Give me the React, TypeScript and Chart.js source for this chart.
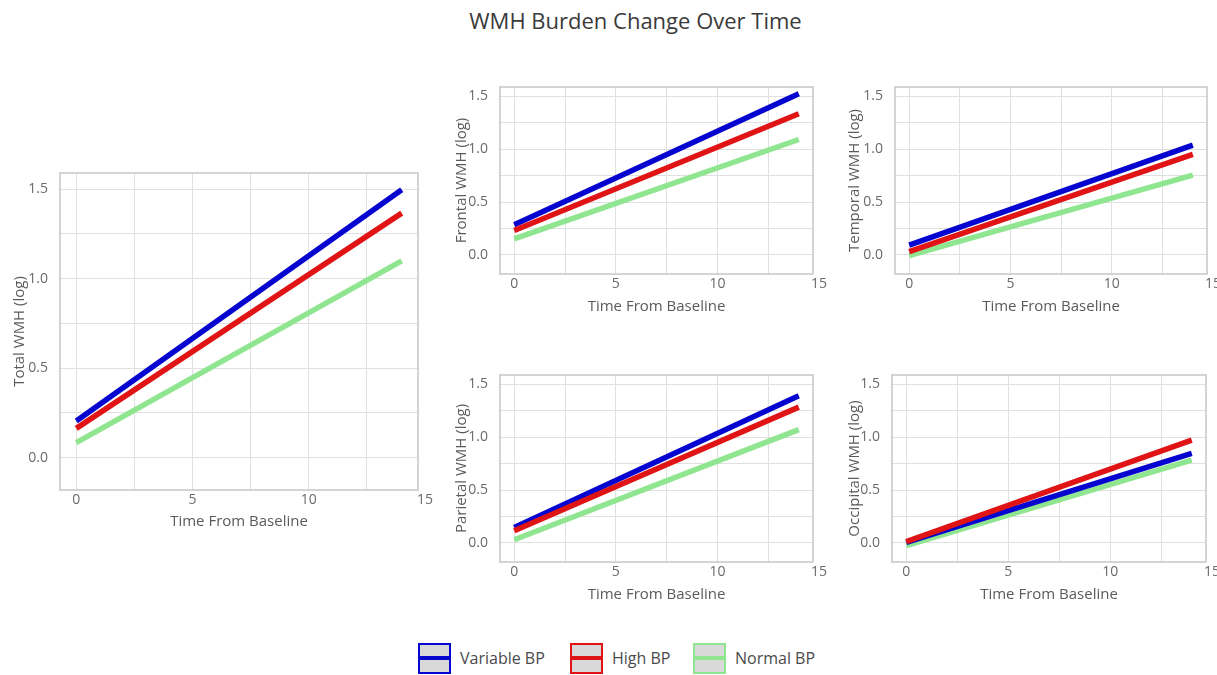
import React, { useEffect, useRef } from "react";
import { Chart, registerables } from "chart.js";

Chart.register(...registerables);

const FONT = "'Open Sans', 'DejaVu Sans', sans-serif";

const TITLE = "WMH Burden Change Over Time";
const X_TITLE = "Time From Baseline";

const seriesNames = ["Variable BP", "High BP", "Normal BP"];
const seriesColors = ["#0505cf", "#e01414", "#90e690"];

// time points (start and end of each fitted line)
const timePoints = [0, 14];

// [start, end] per series: Variable BP, High BP, Normal BP
const totalVariable = [0.205, 1.496];
const totalHigh = [0.164, 1.366];
const totalNormal = [0.084, 1.099];

const frontalVariable = [0.285, 1.525];
const frontalHigh = [0.232, 1.337];
const frontalNormal = [0.153, 1.093];

const temporalVariable = [0.094, 1.04];
const temporalHigh = [0.031, 0.953];
const temporalNormal = [-0.006, 0.756];

const parietalVariable = [0.147, 1.393];
const parietalHigh = [0.116, 1.286];
const parietalNormal = [0.031, 1.073];

const occipitalVariable = [0.006, 0.847];
const occipitalHigh = [0.013, 0.973];
const occipitalNormal = [-0.025, 0.784];

const xTicks = [0, 2.5, 5, 7.5, 10, 12.5, 15];
const xLabelTicks = [0, 5, 10, 15];
const yTicks = [0, 0.25, 0.5, 0.75, 1, 1.25, 1.5];
const yLabelTicks = [0, 0.5, 1, 1.5];

const X_MIN = -0.7;
const X_MAX = 14.7;
const Y_MIN = -0.18;
const Y_MAX = 1.59;

type PanelDef = {
  yTitle: string;
  series: number[][];
  left: number;
  top: number;
  width: number;
  height: number;
  yAxisWidth: number;
  xAxisHeight: number;
};

const panels: PanelDef[] = [
  { yTitle: "Total WMH (log)", series: [totalVariable, totalHigh, totalNormal], left: 11, top: 161, width: 423, height: 374, yAxisWidth: 49, xAxisHeight: 45 },
  { yTitle: "Frontal WMH (log)", series: [frontalVariable, frontalHigh, frontalNormal], left: 453, top: 75, width: 376, height: 245, yAxisWidth: 47, xAxisHeight: 46 },
  { yTitle: "Temporal WMH (log)", series: [temporalVariable, temporalHigh, temporalNormal], left: 846, top: 75, width: 377, height: 245, yAxisWidth: 49, xAxisHeight: 46 },
  { yTitle: "Parietal WMH (log)", series: [parietalVariable, parietalHigh, parietalNormal], left: 453, top: 363, width: 376, height: 245, yAxisWidth: 47, xAxisHeight: 46 },
  { yTitle: "Occipital WMH (log)", series: [occipitalVariable, occipitalHigh, occipitalNormal], left: 846, top: 363, width: 376, height: 245, yAxisWidth: 46, xAxisHeight: 46 },
];

const drawOrder = [1, 0, 2]; // High BP drawn on top, then Variable, then Normal

const frameBorder = {
  id: "frameBorder",
  afterDraw(chart: any) {
    const { ctx, chartArea } = chart;
    ctx.save();
    ctx.strokeStyle = "#c6c6c6";
    ctx.lineWidth = 1.5;
    ctx.strokeRect(chartArea.left, chartArea.top, chartArea.right - chartArea.left, chartArea.bottom - chartArea.top);
    ctx.restore();
  },
};

function Panel({ def }: { def: PanelDef }) {
  const ref = useRef<HTMLCanvasElement | null>(null);
  useEffect(() => {
    if (!ref.current) return;
    const datasets = def.series.map((vals, i) => ({
      label: seriesNames[i],
      data: timePoints.map((t, j) => ({ x: t, y: vals[j] })),
      borderColor: seriesColors[i],
      backgroundColor: seriesColors[i],
      borderWidth: 5.5,
      borderCapStyle: "butt" as const,
      pointRadius: 0,
      fill: false,
      order: drawOrder[i],
    }));
    const chart = new Chart(ref.current, {
      type: "line",
      data: { datasets },
      plugins: [frameBorder],
      options: {
        animation: false,
        responsive: false,
        maintainAspectRatio: false,
        layout: { padding: { top: 12, right: 16, bottom: 0, left: 0 } },
        plugins: { legend: { display: false }, tooltip: { enabled: false }, title: { display: false } },
        scales: {
          x: {
            type: "linear",
            min: X_MIN,
            max: X_MAX,
            afterBuildTicks: (scale: any) => {
              scale.ticks = xTicks.map((v) => ({ value: v }));
            },
            afterFit: (scale: any) => {
              scale.height = def.xAxisHeight;
              scale.paddingLeft = 0;
              scale.paddingRight = 0;
            },
            ticks: {
              autoSkip: false,
              maxRotation: 0,
              padding: 2,
              color: "#6a6a6a",
              font: { family: FONT, size: 14 },
              callback: (v: any) => (xLabelTicks.includes(Number(v)) ? String(v) : ""),
            },
            grid: {
              drawTicks: false,
              color: (c: any) => (c.tick && c.tick.value > X_MAX ? "rgba(0,0,0,0)" : "#e0e0e0"),
              lineWidth: 1,
            },
            border: { display: false },
            title: {
              display: true,
              text: X_TITLE,
              color: "#5a5a5a",
              font: { family: FONT, size: 15 },
              padding: { top: 0, bottom: 4 },
            },
          },
          y: {
            type: "linear",
            min: Y_MIN,
            max: Y_MAX,
            afterBuildTicks: (scale: any) => {
              scale.ticks = yTicks.map((v) => ({ value: v }));
            },
            afterFit: (scale: any) => {
              scale.width = def.yAxisWidth;
              scale.paddingTop = 0;
              scale.paddingBottom = 0;
            },
            ticks: {
              autoSkip: false,
              padding: 12,
              color: "#6a6a6a",
              font: { family: FONT, size: 14 },
              callback: (v: any) => (yLabelTicks.includes(Number(v)) ? Number(v).toFixed(1) : ""),
            },
            grid: { drawTicks: false, color: "#e0e0e0", lineWidth: 1 },
            border: { display: false },
            title: {
              display: true,
              text: def.yTitle,
              color: "#5a5a5a",
              font: { family: FONT, size: 15 },
              padding: { top: 0, bottom: 0 },
            },
          },
        },
      },
    });
    return () => chart.destroy();
  }, [def]);
  return (
    <div style={{ position: "absolute", left: def.left, top: def.top, width: def.width, height: def.height }}>
      <canvas ref={ref} width={def.width} height={def.height} style={{ width: def.width, height: def.height, display: "block" }} />
    </div>
  );
}

const legendLefts = [418, 570, 693];

function LegendItem({ i }: { i: number }) {
  return (
    <div style={{ position: "absolute", left: legendLefts[i], top: 643, height: 30, display: "flex", alignItems: "center" }}>
      <div
        style={{
          width: 29,
          height: 27,
          border: `2px solid ${seriesColors[i]}`,
          background: "#d9d9d9",
          position: "relative",
        }}
      >
        <div style={{ position: "absolute", left: 0, right: 0, top: 11.5, height: 4, background: seriesColors[i] }} />
      </div>
      <span style={{ marginLeft: 9, fontFamily: FONT, fontSize: 16, color: "#4a4a4a" }}>{seriesNames[i]}</span>
    </div>
  );
}

export default function App() {
  return (
    <div style={{ position: "absolute", left: 0, top: 0, width: 1217, height: 675, overflow: "hidden", background: "#fff" }}>
      <div
        style={{
          position: "absolute",
          left: 0,
          top: 5,
          width: 1271,
          textAlign: "center",
          fontFamily: FONT,
          fontSize: 22,
          color: "#3a3a3a",
          whiteSpace: "nowrap",
        }}
      >
        {TITLE}
      </div>
      {panels.map((p, i) => (
        <Panel key={i} def={p} />
      ))}
      {seriesNames.map((_, i) => (
        <LegendItem key={i} i={i} />
      ))}
    </div>
  );
}
